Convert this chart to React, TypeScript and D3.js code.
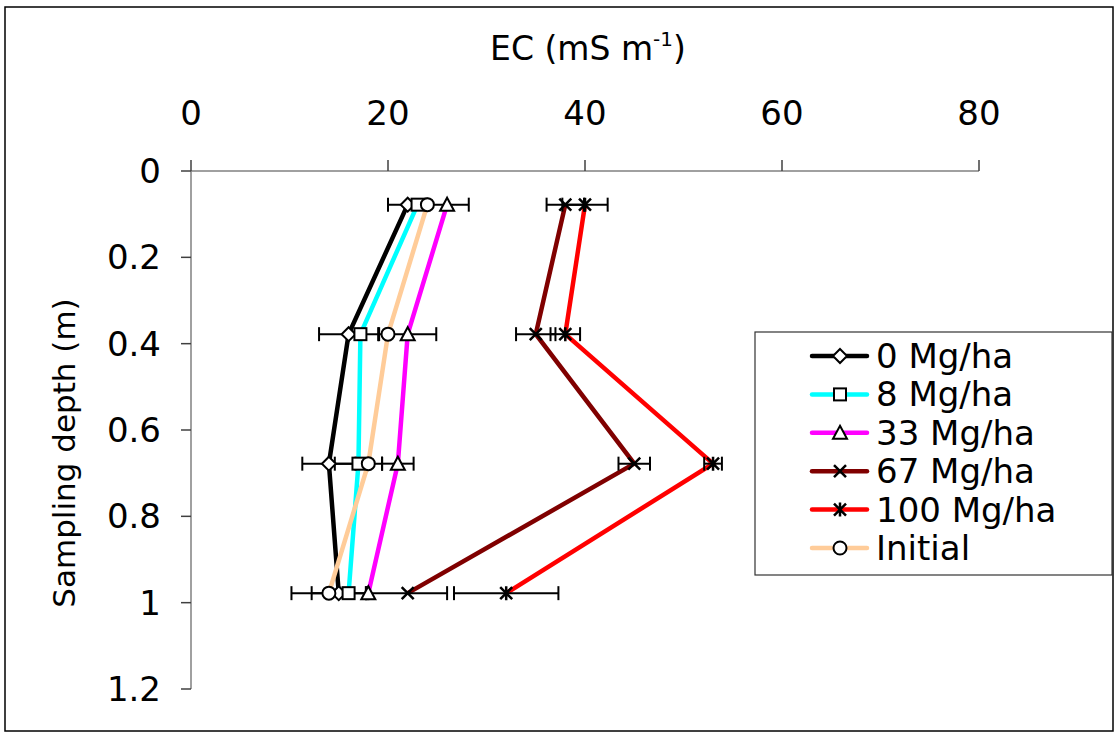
import React from "react";
import * as d3 from "d3";

// Sampling depths (m) and EC readings (mS m-1) for each amendment rate
const depths = [0.078, 0.378, 0.678, 0.978];
const seriesNames = ["0 Mg/ha", "8 Mg/ha", "33 Mg/ha", "67 Mg/ha", "100 Mg/ha", "Initial"];
const ec0 = [22, 16, 14, 15];
const ec8 = [23, 17.2, 17, 16];
const ec33 = [26, 22, 21, 18];
const ec67 = [38, 35, 45, 22];
const ec100 = [40, 38, 53, 32];
const ecInitial = [24, 20, 18, 14];
// Standard errors (0 = not shown)
const err0 = [2, 3, 2.7, 2.75];
const err8 = [0, 0, 2.4, 0];
const err33 = [2.2, 2.9, 1.6, 0];
const err67 = [1.9, 2, 1.6, 4];
const err100 = [2.3, 1.5, 0.9, 5.3];
const errInitial = [0, 0, 0, 3.8];
const xTicks = [0, 20, 40, 60, 80];
const yTicks = [0, 0.2, 0.4, 0.6, 0.8, 1, 1.2];

const colors = ["#000000", "#00FFFF", "#FF00FF", "#800000", "#FF0000", "#FFCC99"];
const markers = ["diamond", "square", "triangle", "x", "star", "circle"];
const values = [ec0, ec8, ec33, ec67, ec100, ecInitial];
const errors = [err0, err8, err33, err67, err100, errInitial];

const FONT = "'DejaVu Sans', Verdana, sans-serif";

function Marker({ kind, x, y }: { kind: string; x: number; y: number }) {
  const s = 6;
  const st = { stroke: "#000", strokeWidth: 2, fill: "#fff" };
  switch (kind) {
    case "diamond":
      return <path d={`M${x},${y - s - 1}L${x + s + 1},${y}L${x},${y + s + 1}L${x - s - 1},${y}Z`} {...st} />;
    case "square":
      return <rect x={x - s} y={y - s} width={2 * s} height={2 * s} {...st} />;
    case "triangle":
      return <path d={`M${x},${y - s - 1}L${x + s + 1},${y + s}L${x - s - 1},${y + s}Z`} {...st} />;
    case "circle":
      return <circle cx={x} cy={y} r={s + 0.5} {...st} />;
    case "x":
      return (
        <path d={`M${x - s},${y - s}L${x + s},${y + s}M${x - s},${y + s}L${x + s},${y - s}`} stroke="#000" strokeWidth={2.5} />
      );
    default:
      return (
        <path
          d={`M${x - s},${y - s}L${x + s},${y + s}M${x - s},${y + s}L${x + s},${y - s}M${x},${y - s - 1}L${x},${y + s + 1}`}
          stroke="#000"
          strokeWidth={2.5}
        />
      );
  }
}

export default function App() {
  const x = d3.scaleLinear().domain([0, 80]).range([191, 979]);
  const y = d3.scaleLinear().domain([0, 1.2]).range([171, 689]);
  const line = d3
    .line<number>()
    .x((v) => x(v))
    .y((_, i) => y(depths[i]));

  const legendX = 755;
  const legendY = 332;
  const rowH = 38.4;

  return (
    <svg
      width={1117}
      height={733}
      style={{ position: "absolute", left: 0, top: 0, background: "#fff" }}
      fontFamily={FONT}
    >
      <rect x={0} y={0} width={1117} height={733} fill="#fff" />
      <rect x={5} y={7} width={1108} height={724} fill="none" stroke="#000" strokeWidth={1.5} />

      {/* title */}
      <text x={588} y={60} textAnchor="middle" fontSize={33} fill="#000">
        EC (mS m
        <tspan fontSize={20} dy={-14}>-1</tspan>
        <tspan dy={14}>)</tspan>
      </text>

      {/* axes */}
      <line x1={x(0)} x2={x(80)} y1={y(0)} y2={y(0)} stroke="#808080" strokeWidth={1.5} />
      <line x1={x(0)} x2={x(0)} y1={y(0)} y2={y(1.2)} stroke="#808080" strokeWidth={1.5} />
      {xTicks.map((t) => (
        <g key={"xt" + t}>
          <line x1={x(t)} x2={x(t)} y1={y(0)} y2={y(0) - 11} stroke="#404040" strokeWidth={1.5} />
          <text x={x(t)} y={125} textAnchor="middle" fontSize={34}>
            {t}
          </text>
        </g>
      ))}
      {yTicks.map((t) => (
        <g key={"yt" + t}>
          <line x1={x(0) - 10} x2={x(0)} y1={y(t)} y2={y(t)} stroke="#404040" strokeWidth={1.5} />
          <text x={161} y={y(t) + 12} textAnchor="end" fontSize={34}>
            {d3.format("~g")(t)}
          </text>
        </g>
      ))}
      <text
        transform={`translate(75,453) rotate(-90)`}
        textAnchor="middle"
        fontSize={31}
      >
        Sampling depth (m)
      </text>

      {/* series lines */}
      {values.map((vals, si) => (
        <path key={"l" + si} d={line(vals) || ""} fill="none" stroke={colors[si]} strokeWidth={4.5} strokeLinejoin="miter" />
      ))}

      {/* error bars */}
      {values.map((vals, si) =>
        vals.map((v, i) => {
          const e = errors[si][i];
          if (!e) return null;
          const cy = y(depths[i]);
          const x0 = x(v - e);
          const x1 = x(v + e);
          return (
            <g key={`e${si}-${i}`} stroke="#000" strokeWidth={2}>
              <line x1={x0} x2={x1} y1={cy} y2={cy} />
              <line x1={x0} x2={x0} y1={cy - 7} y2={cy + 7} />
              <line x1={x1} x2={x1} y1={cy - 7} y2={cy + 7} />
            </g>
          );
        })
      )}

      {/* markers */}
      {values.map((vals, si) =>
        vals.map((v, i) => <Marker key={`m${si}-${i}`} kind={markers[si]} x={x(v)} y={y(depths[i])} />)
      )}

      {/* legend */}
      <rect x={legendX} y={legendY} width={357} height={243} fill="#fff" stroke="#333" strokeWidth={1.2} />
      {seriesNames.map((name, i) => {
        const cy = legendY + 24 + i * rowH;
        return (
          <g key={"lg" + i}>
            <line x1={812} x2={867} y1={cy} y2={cy} stroke={colors[i]} strokeWidth={4.5} strokeLinecap="round" />
            <Marker kind={markers[i]} x={840} y={cy} />
            <text x={876} y={cy + 12} fontSize={34}>
              {name}
            </text>
          </g>
        );
      })}
    </svg>
  );
}
